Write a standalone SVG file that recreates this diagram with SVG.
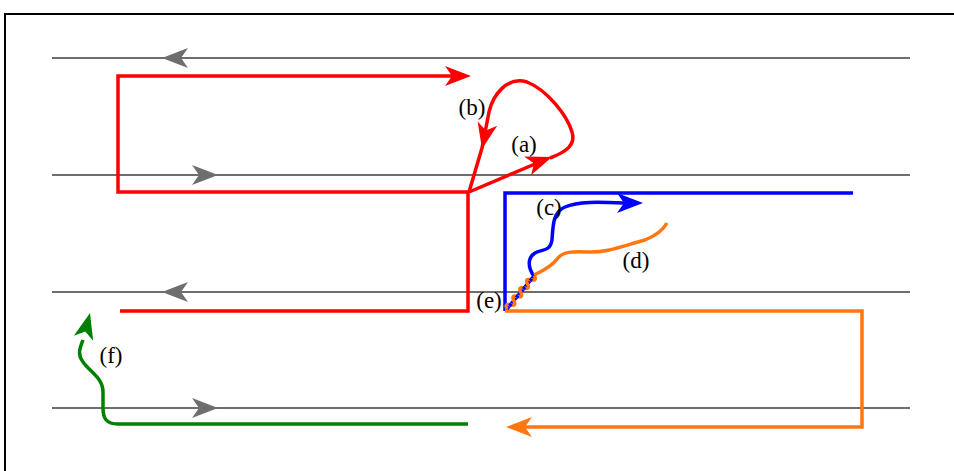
<svg xmlns="http://www.w3.org/2000/svg" xmlns:xlink="http://www.w3.org/1999/xlink" width="954" height="471" viewBox="0 0 954 471">
<style>
.lane{stroke:#6e6e6e;stroke-width:2;fill:none}
.p{fill:none;stroke-width:3.5;stroke-linejoin:miter}
.red{stroke:#ff0000}.blue{stroke:#0000ff}.orange{stroke:#ff7711}.green{stroke:#008000}
.lbl{font-family:"Liberation Serif","Times New Roman",serif;font-size:23px;fill:#000}
</style>
<defs>
<path id="ah" d="M0,0 L-26,-10 L-19,0 L-26,10 Z"/>
</defs>
<rect width="954" height="471" fill="#fff"/>
<rect x="5" y="14" width="960" height="470" fill="none" stroke="#000" stroke-width="2"/>
<g id="lanes">
<line class="lane" x1="52" y1="58" x2="910" y2="58"/>
<line class="lane" x1="52" y1="175" x2="910" y2="175"/>
<line class="lane" x1="52" y1="292" x2="910" y2="292"/>
<line class="lane" x1="52" y1="408" x2="910" y2="408"/>
<use xlink:href="#ah" fill="#6e6e6e" transform="translate(162,58) rotate(180)"/>
<use xlink:href="#ah" fill="#6e6e6e" transform="translate(218,175)"/>
<use xlink:href="#ah" fill="#6e6e6e" transform="translate(162,292) rotate(180)"/>
<use xlink:href="#ah" fill="#6e6e6e" transform="translate(218,408)"/>
</g>
<g id="connectors">
<g id="red">
<path class="p red" d="M120,311 L468,311 L468,192 L118,192 L118,76 L452,76"/>
<use xlink:href="#ah" fill="#ff0000" transform="translate(471,76)"/>
<path class="p red" d="M469,192 L535,164"/>
<use xlink:href="#ah" fill="#ff0000" transform="translate(552,157) rotate(-20)"/>
<path class="p red" d="M550,158 C566,152 576,145 572,132 C567,115 547,90 527,82 C507,76 493,95 489,112 L482,148 L469,192"/>
<use xlink:href="#ah" fill="#ff0000" transform="translate(482,149) rotate(102)"/>
</g>
<g id="blue">
<path class="p blue" d="M505,311 L505,193 L853,193"/>
<path class="p blue" d="M534,276 C528,268 527,258 535,253 C542,249 550,252 552,240 C553,225 553,212 565,207 C578,201 600,202 625,203"/>
<use xlink:href="#ah" fill="#0000ff" transform="translate(643,203)"/>
</g>
<g id="orange">
<path class="p orange" d="M505,311 L862,311 L862,427 L525,427"/>
<use xlink:href="#ah" fill="#ff7711" transform="translate(506,427) rotate(180)"/>
<path class="p orange" d="M534,275 C545,270 553,265 558,258 C563,252 572,251 588,252 C605,253 620,247 645,240 C655,236 663,230 667,223"/>
</g>
<g id="twist" transform="translate(507,309) rotate(-50.7)">
<path class="p blue" d="M0,0 L43,0" stroke-width="3"/>
<path class="p orange" d="M0,0 q2.7,-6 5.4,0 t5.4,0 t5.4,0 t5.4,0 t5.4,0 t5.4,0 t5.4,0 t5.4,0" stroke-width="3"/>
<path class="p blue" d="M0,0 L43,0" stroke-width="3" stroke-dasharray="2.7 8.1" stroke-dashoffset="-4"/>
</g>
<g id="green">
<path class="p green" d="M468,424 L118,424 C106,424 103,418 103,408 L103,392 C103,378 90,372 83,362 C77,354 80,348 83,340"/>
<use xlink:href="#ah" fill="#008000" transform="translate(90,313) rotate(-75.5)"/>
</g>
</g>
<g id="labels">
<text class="lbl" x="524" y="152" text-anchor="middle">(a)</text>
<text class="lbl" x="472" y="115" text-anchor="middle">(b)</text>
<text class="lbl" x="549" y="215" text-anchor="middle">(c)</text>
<text class="lbl" x="636" y="268" text-anchor="middle">(d)</text>
<text class="lbl" x="489" y="308" text-anchor="middle">(e)</text>
<text class="lbl" x="111" y="363" text-anchor="middle">(f)</text>
</g>
</svg>
